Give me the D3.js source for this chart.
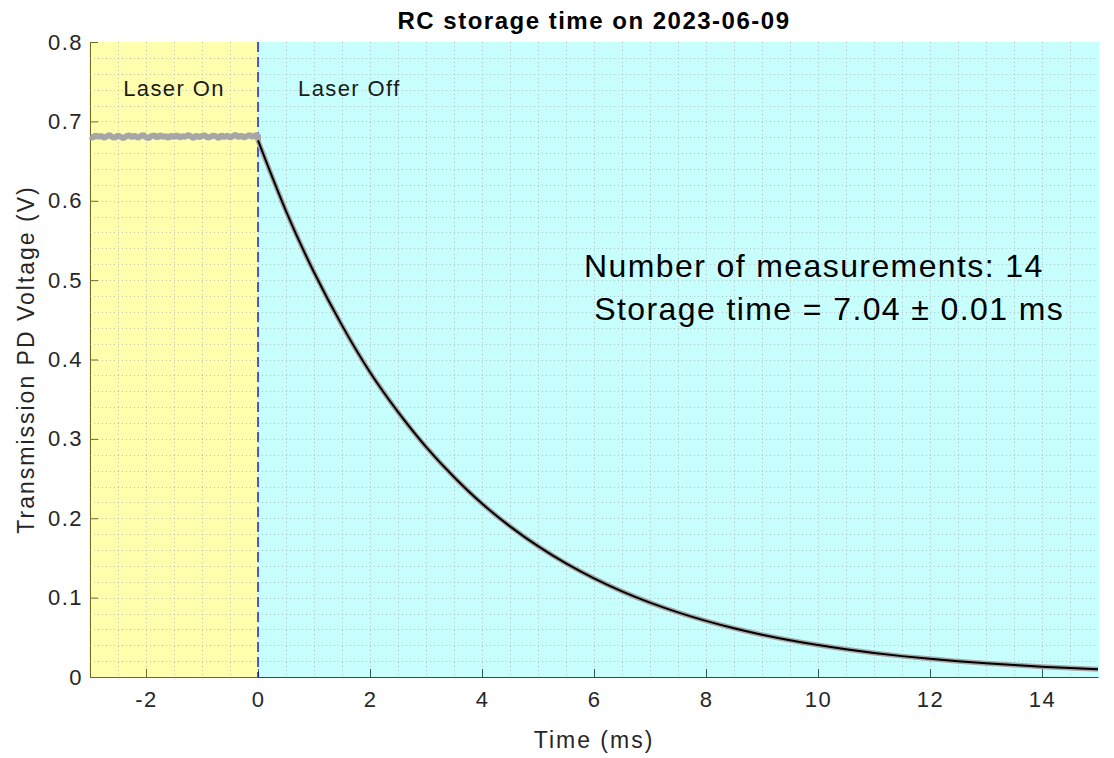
<!DOCTYPE html>
<html>
<head>
<meta charset="utf-8">
<script src="https://cdn.jsdelivr.net/npm/d3@7"></script>
<style>
  body { margin: 0; background: #fff; }
  text { font-family: "Liberation Sans", Arial, Helvetica, sans-serif; }
</style>
</head>
<body>
<svg id="stage" width="1114" height="758"></svg>
<script>
// chart values
var chartTitle = "RC storage time on 2023-06-09";
var xLabel = "Time (ms)";
var yLabel = "Transmission PD Voltage (V)";
var xTicks = [-2, 0, 2, 4, 6, 8, 10, 12, 14];
var yTicks = [0, 0.1, 0.2, 0.3, 0.4, 0.5, 0.6, 0.7, 0.8];
var regionNames = ["Laser On", "Laser Off"];
var noteLines = ["Number of measurements: 14", " Storage time = 7.04 \u00b1 0.01 ms"];

// laser on trace, one sample every 0.05 ms from -3 to 0
var onStart = -3, onStep = 0.05;
var onValues = [
  0.6810,0.6795,0.6825,0.6805,0.6820,0.6790,0.6812,0.6828,0.6800,0.6795,
  0.6822,0.6805,0.6788,0.6815,0.6825,0.6800,0.6820,0.6795,0.6810,0.6830,
  0.6800,0.6790,0.6815,0.6822,0.6795,0.6826,0.6805,0.6815,0.6790,0.6822,
  0.6800,0.6828,0.6795,0.6815,0.6805,0.6830,0.6810,0.6790,0.6822,0.6800,
  0.6815,0.6826,0.6795,0.6805,0.6822,0.6810,0.6790,0.6826,0.6800,0.6822,
  0.6795,0.6815,0.6830,0.6800,0.6822,0.6795,0.6815,0.6826,0.6805,0.6822,0.6828
];

// decay after laser switched off
var decayTimes = [0,0.5,1,1.5,2,2.5,3,3.5,4,4.5,5,5.5,6,6.5,7,7.5,8,8.5,9,9.5,
                  10,10.5,11,11.5,12,12.5,13,13.5,14,14.5,15];
var decayValues = [0.676,0.587,0.510,0.443,0.384,0.334,0.290,0.252,0.2185,0.1898,
                   0.1648,0.1431,0.1243,0.1079,0.0937,0.0814,0.0707,0.0614,0.0533,0.0463,
                   0.0402,0.0349,0.0303,0.0263,0.0229,0.0199,0.0172,0.0150,0.0130,0.0113,0.0098];

var pLeft = 90, pRight = 1098, pTop = 42, pBottom = 677;
var svg = d3.select("#stage");

var x = d3.scaleLinear().domain([-3, 15]).range([pLeft, pRight]);
var y = d3.scaleLinear().domain([0, 0.8]).range([pBottom, pTop]);

var axisColor = "#262626";

//Axes lines + ticks (drawn first, patches tint them like the original)
var xAxis = d3.axisBottom(x).tickValues(xTicks).tickSizeInner(-8).tickSizeOuter(0).tickPadding(14)
  .tickFormat(function(d){ return String(d); });
var gx = svg.append("g").attr("transform", "translate(0," + pBottom + ")").call(xAxis);
gx.select(".domain").attr("stroke", axisColor);
gx.selectAll(".tick line").attr("stroke", axisColor);
gx.selectAll(".tick text").attr("fill", "#262626")
  .style("font-size", "22px").style("letter-spacing", "1.5px");

var yAxis = d3.axisLeft(y).tickValues(yTicks).tickSizeInner(-8).tickSizeOuter(0).tickPadding(7)
  .tickFormat(function(d){ return d === 0 ? "0" : d3.format(".1f")(d); });
var gy = svg.append("g").attr("transform", "translate(" + pLeft + ",0)").call(yAxis);
gy.select(".domain").attr("stroke", axisColor);
gy.selectAll(".tick line").attr("stroke", axisColor);
gy.selectAll(".tick text").attr("fill", "#262626")
  .style("font-size", "22px").style("letter-spacing", "1.5px");

//Background patches
svg.append("rect")
  .attr("x", x(-3) - 1).attr("y", y(0.8))
  .attr("width", x(0) - x(-3) + 1).attr("height", y(0) - y(0.8) + 1)
  .attr("fill", "#ffff00").attr("fill-opacity", 0.32);
svg.append("rect")
  .attr("x", x(0)).attr("y", y(0.8))
  .attr("width", x(15) - x(0) + 1).attr("height", y(0) - y(0.8) + 1)
  .attr("fill", "#00ffff").attr("fill-opacity", 0.22);

//Grid (minor every 0.5 ms and 0.02 V)
var gridX = d3.range(-2.5, 15, 0.5);
var gridY = d3.range(1, 40).map(function(i){ return i * 0.02; });
var grid = svg.append("g").attr("stroke", "#8a8a8a").attr("stroke-opacity", 0.5)
  .attr("stroke-width", 1).attr("stroke-dasharray", "1,3");
grid.selectAll(".gx").data(gridX).enter().append("line")
  .attr("x1", function(d){ return Math.round(x(d)) + 0.5; })
  .attr("x2", function(d){ return Math.round(x(d)) + 0.5; })
  .attr("y1", pTop).attr("y2", pBottom);
grid.selectAll(".gy").data(gridY).enter().append("line")
  .attr("y1", function(d){ return Math.round(y(d)) + 0.5; })
  .attr("y2", function(d){ return Math.round(y(d)) + 0.5; })
  .attr("x1", pLeft).attr("x2", pRight);

//Laser on / off boundary
svg.append("line")
  .attr("x1", x(0)).attr("x2", x(0)).attr("y1", pTop).attr("y2", pBottom)
  .attr("stroke", "#0000e6").attr("stroke-width", 1.3).attr("stroke-dasharray", "10,5");

//Traces
var onData = onValues.map(function(v, i){ return {t: onStart + i * onStep, v: v}; });
var decayData = decayTimes.map(function(t, i){ return {t: t, v: decayValues[i]}; });

var line = d3.line()
  .x(function(d){ return x(d.t); })
  .y(function(d){ return y(d.v); });
var smooth = d3.line()
  .x(function(d){ return x(d.t); })
  .y(function(d){ return y(d.v); })
  .curve(d3.curveNatural);

svg.append("path").datum(onData.concat([decayData[0]]))
  .attr("d", line).attr("fill", "none")
  .attr("stroke", "#a6a6a6").attr("stroke-width", 6).attr("stroke-linejoin", "bevel");
svg.append("path").datum(decayData)
  .attr("d", smooth).attr("fill", "none")
  .attr("stroke", "#a6a6a6").attr("stroke-width", 5);
svg.append("path").datum(decayData)
  .attr("d", smooth).attr("fill", "none")
  .attr("stroke", "#000").attr("stroke-width", 2);

//Region labels
svg.append("text").attr("x", (x(-3) + x(0)) / 2).attr("y", 96)
  .attr("text-anchor", "middle").style("font-size", "22px").style("letter-spacing", "1.4px")
  .attr("fill", "#1a1a1a").text(regionNames[0]);
svg.append("text").attr("x", 298).attr("y", 96)
  .style("font-size", "22px").style("letter-spacing", "1.4px")
  .attr("fill", "#1a1a1a").text(regionNames[1]);

//Annotation
svg.selectAll(".note").data(noteLines).enter().append("text")
  .attr("x", 584).attr("y", function(d, i){ return 277 + i * 43; })
  .style("font-size", "32px").style("letter-spacing", "1.4px").style("white-space", "pre")
  .attr("fill", "#000").text(function(d){ return d; });

//Title and axis labels
svg.append("text").attr("x", (pLeft + pRight) / 2).attr("y", 29)
  .attr("text-anchor", "middle").style("font-size", "24px").style("font-weight", "bold")
  .style("letter-spacing", "1.5px").attr("fill", "#000").text(chartTitle);
svg.append("text").attr("x", (pLeft + pRight) / 2).attr("y", 748)
  .attr("text-anchor", "middle").style("font-size", "23px").style("letter-spacing", "2px")
  .attr("fill", "#262626").text(xLabel);
svg.append("text")
  .attr("transform", "translate(34," + ((pTop + pBottom) / 2) + ") rotate(-90)")
  .attr("text-anchor", "middle").style("font-size", "23px").style("letter-spacing", "2px")
  .attr("fill", "#262626").text(yLabel);
</script>
</body>
</html>
